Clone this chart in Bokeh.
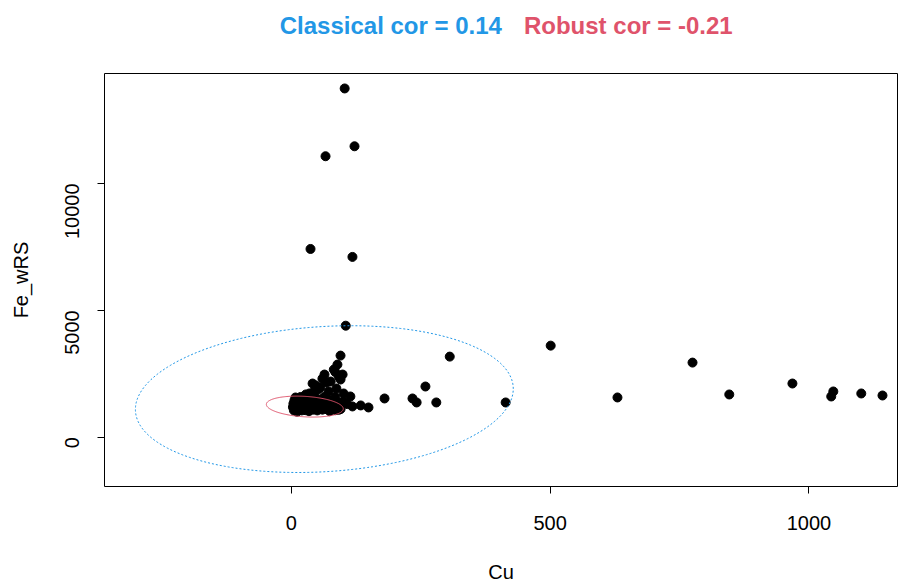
import math
import numpy as np
from bokeh.plotting import figure
from bokeh.layouts import column
from bokeh.models import FixedTicker, Range1d
from bokeh.core.properties import value
from bokeh.embed import file_html
from bokeh.resources import INLINE

# ---- data ----
cu = [103, 66, 122, 37, 118, 105, 501, 306, 775, 968, 630, 846, 1047, 1043, 1101, 1142,
      414, 259, 234, 242, 280, 180, 149, 134, 118, 114,
      95, 89, 82, 99, 95, 64, 47, 76, 56, 87, 72, 101, 41, 85, 92, 60, 68, 52, 44, 35, 28,
      3, 4, 5, 6, 7, 8, 9, 10, 11, 12, 13, 14, 15, 16, 17, 18, 19, 20, 21, 22, 23, 24, 25,
      26, 27, 28, 29, 30, 31, 32, 33, 34, 35, 36, 37, 38, 39, 40, 42, 44, 45, 47, 48, 50,
      52, 54, 55, 57, 59, 60, 62, 64, 66, 68, 70, 72, 74, 76, 78, 80, 82, 85, 87, 90, 92,
      95, 97, 8, 18, 28, 45, 65, 85, 91, 100, 108]
fe = [13746, 11073, 11466, 7417, 7103, 4391, 3605, 3172, 2936, 2111, 1561, 1679, 1797, 1600, 1718, 1639,
      1364, 1993, 1521, 1364, 1364, 1521, 1167, 1246, 1207, 1600,
      3212, 2858, 2661, 2465, 2268, 2465, 2032, 2190, 1954, 1915, 1797, 1718, 2111, 2560, 2380, 2300, 2150, 1880, 1800, 1720, 1680,
      1180, 1320, 1050, 1450, 1250, 1120, 1380, 1200, 1000, 1300, 1500, 1150, 1080, 1260, 1420, 1180, 1340, 1050, 1220, 1480, 1120, 1300, 1200,
      1390, 1060, 1160, 1270, 1440, 1100, 1230, 1350, 1020, 1180, 1300, 1550, 1120, 1250, 1400, 1080, 1200, 1330, 1150, 1480, 1050,
      1260, 1380, 1140, 1220, 1500, 1080, 1300, 1180, 1420, 1100, 1250, 1350, 1020, 1180, 1450, 1120, 1280, 1060, 1380, 1150, 1250,
      1100, 1320, 1560, 1580, 1600, 1620, 1600, 1580, 1072, 1400, 1300]

# tolerance ellipses: centre, half extents along x / y, correlation
classical_center = [63.7, 1496]
classical_extent = [365, 2894]
classical_cor = 0.14
robust_center = [26, 1201]
robust_extent = [74.3, 413]
robust_cor = -0.21

x_ticks = [0, 500, 1000]
y_ticks = [0, 5000, 10000]
title_classical = "Classical cor = 0.14"
title_robust = "Robust cor = -0.21"

BLUE = "#2297E6"
RED = "#DF536B"
FONT = "Liberation Sans"
W = 898
TITLE_H = 50


def ellipse(center, extent, r, n=240):
    t = np.linspace(0, 2 * np.pi, n)
    x = center[0] + extent[0] * np.cos(t)
    y = center[1] + extent[1] * (r * np.cos(t) + math.sqrt(1 - r * r) * np.sin(t))
    return x, y


# ---- title strip (two coloured parts) ----
t = figure(width=W, height=TITLE_H, output_backend="svg", toolbar_location=None,
           x_range=Range1d(0, W), y_range=Range1d(0, TITLE_H),
           x_axis_location=None, y_axis_location=None, min_border=0)
t.outline_line_color = None
t.xgrid.visible = False
t.ygrid.visible = False
t.background_fill_color = "white"
t.border_fill_color = "white"
t.text(x=[450], y=[TITLE_H - 25], text=[title_classical], text_align="right",
       text_baseline="middle", text_color=BLUE, text_font=value(FONT),
       text_font_size="24px", text_font_style="bold")
t.text(x=[475], y=[TITLE_H - 25], text=[title_robust], text_align="left",
       text_baseline="middle", text_color=RED, text_font=value(FONT),
       text_font_size="24px", text_font_style="bold")

# ---- main scatter ----
p = figure(width=W, height=585 - TITLE_H, output_backend="svg", toolbar_location=None,
           x_range=Range1d(-361, 1171), y_range=Range1d(-1950, 14336))
p.min_border_left = 104
p.min_border_right = 1
p.min_border_top = 73 - TITLE_H
p.min_border_bottom = 97
p.background_fill_color = "white"
p.border_fill_color = "white"
p.outline_line_color = "black"
p.outline_line_width = 1
p.xgrid.visible = False
p.ygrid.visible = False

for ax in (p.xaxis[0], p.yaxis[0]):
    ax.axis_line_color = None
    ax.major_tick_line_color = "black"
    ax.major_tick_out = 7
    ax.major_tick_in = 0
    ax.minor_tick_line_color = None
    ax.major_label_text_font = FONT
    ax.major_label_text_font_size = "20px"
    ax.major_label_text_color = "black"
    ax.axis_label_text_font = FONT
    ax.axis_label_text_font_size = "20px"
    ax.axis_label_text_font_style = "normal"
    ax.axis_label_text_color = "black"

p.xaxis.ticker = FixedTicker(ticks=x_ticks)
p.yaxis.ticker = FixedTicker(ticks=y_ticks)
p.xaxis.major_label_overrides = {v: str(v) for v in x_ticks}
p.yaxis.major_label_overrides = {v: str(v) for v in y_ticks}
p.yaxis.major_label_orientation = math.pi / 2
p.xaxis.axis_label = "Cu"
p.yaxis.axis_label = "Fe_wRS"
p.xaxis.major_label_standoff = 22
p.xaxis.axis_label_standoff = 28
p.yaxis.major_label_standoff = 25
p.yaxis.axis_label_standoff = 24

p.scatter(cu, fe, size=9, color="black", marker="circle")

ex, ey = ellipse(classical_center, classical_extent, classical_cor)
p.line(ex, ey, line_color=BLUE, line_width=1, line_dash="2 2")
rx, ry = ellipse(robust_center, robust_extent, robust_cor)
p.line(rx, ry, line_color=RED, line_width=1)

layout = column(t, p, spacing=0)
open("out.html", "w").write(file_html(layout, INLINE))
